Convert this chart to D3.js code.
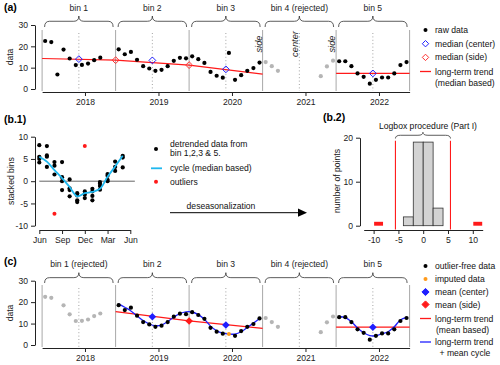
<!DOCTYPE html>
<html>
<head>
<meta charset="utf-8">
<script src="https://cdn.jsdelivr.net/npm/d3@7"></script>
<style>
  body { margin: 0; background: #fff; }
  svg { display: block; }
</style>
</head>
<body>
<div id="chart"></div>
<script>
// ---- data ----
// bins run June -> May, named by the year they start in
const binYears = [2017, 2018, 2019, 2020, 2021];
const binLabelsA = ["bin 1", "bin 2", "bin 3", "bin 4 (rejected)", "bin 5"];
const binLabelsC = ["bin 1 (rejected)", "bin 2", "bin 3", "bin 4 (rejected)", "bin 5"];
const yearTicks = [2018, 2019, 2020, 2021, 2022];

// monthly raw values, Jun..May (null = missing)
const rawBin1 = [22.5, 22.0, 6.8, 18.5, 14.3, 11.2, 11.3, 11.9, 13.5, 14.7, null, null];
const rawBin2 = [18.6, 16.3, 17.4, 13.7, 10.7, 9.6, 8.5, 9.0, 10.7, 13.2, 14.6, 14.4];
const rawBin3 = [15.3, 14.0, 12.2, 8.0, 6.2, 5.3, 16.9, 4.3, 6.5, 8.5, 9.8, 12.4];
const rawBin4 = [12.6, 10.7, 8.5, null, null, null, null, null, null, 6.0, 10.6, 13.3];
const rawBin5 = [13.0, 13.0, 10.7, 7.3, 5.7, 2.5, 4.3, 5.4, 5.4, 7.3, 11.2, 12.6];
const rawBins = [rawBin1, rawBin2, rawBin3, rawBin4, rawBin5];
const rejectedA = [3];
const rejectedC = [0, 3];

// outliers found by the logbox step (bin index, month index)
const outlierIdx = [{ bin: 0, i: 2 }, { bin: 2, i: 6 }];
const imputed = [{ bin: 2, i: 6, v: 5.1 }];

// (a) median based trend
const trendA = [{ t: 2017.417, v: 14.3 }, { t: 2018.417, v: 13.5 }, { t: 2019.417, v: 11.2 }, { t: 2020.417, v: 7.0 }];
const trendA5 = [{ t: 2021.417, v: 7.3 }, { t: 2022.417, v: 7.3 }];
const medianCenter = [{ t: 2017.917, v: 14.0 }, { t: 2018.917, v: 13.4 }, { t: 2019.917, v: 9.2 }, { t: 2021.917, v: 7.3 }];
const medianSide = [{ t: 2018.417, v: 13.5 }, { t: 2019.417, v: 11.2 }];

// (c) mean based trend
const trendC = [{ t: 2018.417, v: 15.6 }, { t: 2019.417, v: 11.3 }, { t: 2020.417, v: 7.8 }];
const trendC5 = [{ t: 2021.417, v: 8.3 }, { t: 2022.417, v: 8.3 }];
const meanCenter = [{ t: 2018.917, v: 13.2 }, { t: 2019.917, v: 9.3 }, { t: 2021.917, v: 8.3 }];
const meanSide = [{ t: 2019.417, v: 11.2 }];
// trend + mean cycle, monthly from Jun 2018 (bins 2-3) and Jun 2021 (bin 5)
const cycleCurve23 = [19.2, 17.6, 15.9, 13.6, 11.4, 9.8, 9.0, 9.3, 10.9, 13.0, 14.7, 15.5,
                      15.4, 14.2, 12.0, 8.8, 6.6, 5.5, 5.1, 5.1, 6.2, 8.2, 10.2, 12.4];
const cycleCurve5 = [13.3, 12.8, 10.9, 7.9, 5.7, 4.4, 4.3, 5.3, 6.2, 8.5, 11.7, 12.9];

// (b.1) detrended data stacked by month (Jun = 0)
const monthTicks = [0, 3, 6, 9, 12];
const monthLabels = ["Jun", "Sep", "Dec", "Mar", "Jun"];
const detrended = [
    [8.1, 5.5, 5.0, 4.2], [7.9, 5.8, 5.5, 3.2], [4.3, 3.5, 1.5], [4.3, 0.9, 0.0, -2.0],
    [0.4, -1.6, -2.0, -3.4], [-2.7, -3.2, -4.3, -4.7], [-2.3, -3.0, -3.8], [-1.7, -2.3, -3.3, -4.3],
    [-0.2, -0.6, -1.1, -1.9], [1.6, 1.2, 0.3, 0.0], [4.4, 3.2, 2.3], [5.7, 5.3, 3.1]
];
const outliersB1 = [{ m: 2, v: -7.3 }, { m: 6, v: 7.9 }];
const cycleMedian = [5.5, 4.4, 2.5, 0.7, -1.3, -3.4, -2.7, -2.4, -1.7, 1.0, 3.3, 5.7];

// (b.2) histogram of deseasonalized data
const histEdges = [-4, -2, 0, 2, 4];
const histCounts = [2, 19, 19, 4];
const histOutliers = [{ x0: -10, x1: -8, n: 1 }, { x0: 10, x1: 12, n: 1 }];
const logboxLimits = [-5.6, 5.5];
const histTicks = [-10, -5, 0, 5, 10];

// ---- setup ----
const FONT = "'Liberation Sans', Arial, Helvetica, sans-serif";
const FS = 8.6;
const GRAYPT = "#b5b5b5";
const svg = d3.select("#chart").append("svg")
    .attr("width", 500)
    .attr("height", 365)
    .attr("font-family", FONT);

const x = d3.scaleLinear().domain([2017 + 5 / 12, 2022 + 5 / 12]).range([42.1, 409.6]);
const yA = d3.scaleLinear().domain([0, 30]).range([89, 25]);
const yC = d3.scaleLinear().domain([0, 30]).range([345, 280.7]);
const monthT = (b, i) => binYears[b] + (5 + i + 0.5) / 12;
const diamond = r => `M0,${-r}L${r},0L0,${r}L${-r},0Z`;

function styleAxis(g) {
    g.attr("font-family", FONT).attr("font-size", FS);
    g.select(".domain").attr("stroke", "#222");
    g.selectAll(".tick line").attr("stroke", "#222");
    g.selectAll(".tick text").attr("fill", "#222");
}

function leftAxis(scale, xPos, ticks) {
    svg.append("g")
        .attr("transform", `translate(${xPos},0)`)
        .call(d3.axisLeft(scale).tickValues(ticks).tickSize(4).tickPadding(3).tickSizeOuter(0).tickFormat(d => String(d)))
        .call(styleAxis);
}

function bottomAxis(scale, yPos, ticks, fmt) {
    svg.append("g")
        .attr("transform", `translate(0,${yPos})`)
        .call(d3.axisBottom(scale).tickValues(ticks).tickSize(4).tickPadding(3).tickSizeOuter(0).tickFormat(fmt))
        .call(styleAxis);
}

function yTitle(label, xPos, yPos) {
    svg.append("text")
        .attr("transform", `translate(${xPos},${yPos}) rotate(-90)`)
        .attr("text-anchor", "middle")
        .attr("font-size", FS)
        .attr("fill", "#222")
        .text(label);
}

function panelLabel(label, xPos, yPos) {
    svg.append("text")
        .attr("x", xPos).attr("y", yPos)
        .attr("font-size", 10.5)
        .attr("font-weight", "bold")
        .text(label);
}

// curly brace opening downwards
function bracePath(x0, x1, yEnd, yTip) {
    const xm = (x0 + x1) / 2, ym = yTip + (yEnd - yTip) * 0.48, r = 5;
    return `M${x0},${yEnd} Q${x0},${ym} ${x0 + r},${ym} L${xm - r},${ym} Q${xm},${ym} ${xm},${yTip}` +
        ` Q${xm},${ym} ${xm + r},${ym} L${x1 - r},${ym} Q${x1},${ym} ${x1},${yEnd}`;
}

function binFrame(yScale, top, bottom, labels, braceY) {
    const edges = binYears.map(b => b + 5 / 12).concat([binYears[4] + 1 + 5 / 12]);
    svg.append("g").selectAll("line")
        .data(edges)
        .join("line")
        .attr("x1", d => x(d)).attr("x2", d => x(d))
        .attr("y1", top).attr("y2", bottom)
        .attr("stroke", "#a8a8a8").attr("stroke-width", 1);
    svg.append("g").selectAll("line")
        .data(binYears.map(b => b + 11 / 12))
        .join("line")
        .attr("x1", d => x(d)).attr("x2", d => x(d))
        .attr("y1", top + 3).attr("y2", bottom)
        .attr("stroke", "#9a9a9a").attr("stroke-width", 0.9)
        .attr("stroke-dasharray", "1,2.4");
    svg.append("g").selectAll("path")
        .data(binYears)
        .join("path")
        .attr("d", b => bracePath(x(b + 5 / 12) + 2.5, x(b + 17 / 12) - 2.5, braceY[1], braceY[0]))
        .attr("fill", "none").attr("stroke", "#333").attr("stroke-width", 0.8);
    svg.append("g").selectAll("text")
        .data(binYears)
        .join("text")
        .attr("x", b => x(b + 11 / 12))
        .attr("y", braceY[0] - 5.5)
        .attr("text-anchor", "middle")
        .attr("font-size", FS)
        .attr("fill", "#222")
        .text((b, i) => labels[i]);
}

function legendRow(xSym, y, sym, lines) {
    const g = svg.append("g");
    if (sym.type === "dot") {
        g.append("circle").attr("cx", xSym).attr("cy", y).attr("r", 2).attr("fill", sym.color);
    } else if (sym.type === "diamond") {
        g.append("path").attr("d", diamond(sym.r))
            .attr("transform", `translate(${xSym},${y})`)
            .attr("fill", sym.fill).attr("stroke", sym.stroke).attr("stroke-width", 1);
    } else if (sym.type === "line") {
        g.append("line").attr("x1", xSym - 5.5).attr("x2", xSym + 5.5)
            .attr("y1", y).attr("y2", y)
            .attr("stroke", sym.color).attr("stroke-width", sym.w || 1.3);
    }
    lines.forEach((l, k) => {
        g.append("text")
            .attr("x", xSym + 9.5 + (l.dx || 0))
            .attr("y", y + 3 + k * 11.3)
            .attr("font-size", FS)
            .attr("fill", "#111")
            .text(l.t);
    });
}

const lineT = d3.line().x(d => x(d.t));

// ================= panel (a) =================
panelLabel("(a)", 4, 11);
binFrame(yA, 30, 91, binLabelsA, [16, 27]);

// side / center annotations
[{ t: 2020.417, s: "side", dx: -1 }, { t: 2020.917, s: "center", dx: -1.5 }, { t: 2021.417, s: "side", dx: -1 }]
    .forEach(a => {
        svg.append("text")
            .attr("transform", `translate(${x(a.t) + a.dx},44) rotate(-90)`)
            .attr("text-anchor", "middle")
            .attr("font-size", 9.3)
            .attr("font-style", "italic")
            .attr("fill", "#222")
            .text(a.s);
    });

[trendA, trendA5].forEach(tr => {
    svg.append("path")
        .attr("d", lineT.y(d => yA(d.v))(tr))
        .attr("fill", "none").attr("stroke", "#ff1a1a").attr("stroke-width", 1.2);
});

const ptsA = [];
rawBins.forEach((arr, b) => arr.forEach((v, i) => {
    if (v !== null) ptsA.push({ t: monthT(b, i), v, gray: rejectedA.includes(b) });
}));
svg.append("g").selectAll("circle")
    .data(ptsA)
    .join("circle")
    .attr("cx", d => x(d.t)).attr("cy", d => yA(d.v)).attr("r", 2.1)
    .attr("fill", d => d.gray ? GRAYPT : "#000");

svg.append("g").selectAll("path")
    .data(medianCenter)
    .join("path")
    .attr("d", diamond(3.4))
    .attr("transform", d => `translate(${x(d.t)},${yA(d.v)})`)
    .attr("fill", "none").attr("stroke", "#1f1fff").attr("stroke-width", 1);
svg.append("g").selectAll("path")
    .data(medianSide)
    .join("path")
    .attr("d", diamond(3.4))
    .attr("transform", d => `translate(${x(d.t)},${yA(d.v)})`)
    .attr("fill", "none").attr("stroke", "#ff3030").attr("stroke-width", 1);

leftAxis(yA, 35, [0, 10, 20, 30]);
bottomAxis(x, 92, yearTicks, d => String(d));
yTitle("data", 13, 57);

legendRow(425.5, 30, { type: "dot", color: "#000" }, [{ t: "raw data" }]);
legendRow(425.5, 43.7, { type: "diamond", r: 3.2, fill: "none", stroke: "#1f1fff" }, [{ t: "median (center)" }]);
legendRow(425.5, 57.4, { type: "diamond", r: 3.2, fill: "none", stroke: "#ff3030" }, [{ t: "median (side)" }]);
legendRow(425.5, 71.5, { type: "line", color: "#ff1a1a" }, [{ t: "long-term trend" }, { t: "(median based)" }]);

// ================= panel (b.1) =================
panelLabel("(b.1)", 4, 123);
const xB = d3.scaleLinear().domain([0, 12]).range([39.3, 130.3]);
const yB = d3.scaleLinear().domain([-10, 10]).range([225.7, 136.7]);

svg.append("line")
    .attr("x1", xB(0)).attr("x2", xB(12.6))
    .attr("y1", yB(0)).attr("y2", yB(0))
    .attr("stroke", "#555").attr("stroke-width", 0.9);

const ptsB = [];
detrended.forEach((arr, m) => arr.forEach(v => ptsB.push({ m, v })));
svg.append("g").selectAll("circle")
    .data(ptsB)
    .join("circle")
    .attr("cx", d => xB(d.m)).attr("cy", d => yB(d.v)).attr("r", 2.1)
    .attr("fill", "#000");
svg.append("g").selectAll("circle")
    .data(outliersB1)
    .join("circle")
    .attr("cx", d => xB(d.m)).attr("cy", d => yB(d.v)).attr("r", 2)
    .attr("fill", "#ff1a1a");

svg.append("path")
    .attr("d", d3.line().x((d, i) => xB(i)).y(d => yB(d)).curve(d3.curveCatmullRom)(cycleMedian))
    .attr("fill", "none").attr("stroke", "#1fb8ef").attr("stroke-width", 1.8);

leftAxis(yB, 35, [-10, -5, 0, 5, 10]);
bottomAxis(xB, 230, monthTicks, (d, i) => monthLabels[i]);
yTitle("stacked bins", 14, 181);

legendRow(156, 149, { type: "dot", color: "#000" }, []);
svg.append("text").attr("x", 170).attr("y", 147).attr("font-size", FS).attr("fill", "#111").text("detrended data from");
svg.append("text").attr("x", 170).attr("y", 155.5).attr("font-size", FS).attr("fill", "#111").text("bin 1,2,3 & 5.");
legendRow(156.5, 168.3, { type: "line", color: "#1fb8ef", w: 1.8 }, [{ t: "cycle (median based)", dx: 4 }]);
legendRow(156, 181.7, { type: "dot", color: "#ff1a1a" }, [{ t: "outliers", dx: 4.5 }]);

// arrow
svg.append("line")
    .attr("x1", 170).attr("x2", 300)
    .attr("y1", 212.7).attr("y2", 212.7)
    .attr("stroke", "#000").attr("stroke-width", 1);
svg.append("path")
    .attr("d", "M307,212.7 L298,208.6 L298,216.8 Z")
    .attr("fill", "#000");
svg.append("text")
    .attr("x", 221).attr("y", 209)
    .attr("text-anchor", "middle")
    .attr("font-size", FS).attr("fill", "#111")
    .text("deseasonalization");

// ================= panel (b.2) =================
panelLabel("(b.2)", 323, 121);
const xH = d3.scaleLinear().domain([-12, 12]).range([363.7, 482.7]);
const yH = d3.scaleLinear().domain([0, 20]).range([225.7, 137.7]);

svg.append("g").selectAll("rect")
    .data(histCounts)
    .join("rect")
    .attr("x", (d, i) => xH(histEdges[i]))
    .attr("width", (d, i) => xH(histEdges[i + 1]) - xH(histEdges[i]))
    .attr("y", d => yH(d))
    .attr("height", d => yH(0) - yH(d))
    .attr("fill", "#d3d3d3").attr("stroke", "#333").attr("stroke-width", 0.8);
svg.append("g").selectAll("rect")
    .data(histOutliers)
    .join("rect")
    .attr("x", d => xH(d.x0) + 0.5)
    .attr("width", d => xH(d.x1) - xH(d.x0) - 1)
    .attr("y", d => yH(d.n) + 0.5)
    .attr("height", d => yH(0) - yH(d.n) - 0.5)
    .attr("fill", "#ff1a1a");
svg.append("g").selectAll("line")
    .data(logboxLimits)
    .join("line")
    .attr("x1", d => xH(d)).attr("x2", d => xH(d))
    .attr("y1", yH(19.3)).attr("y2", 229.5)
    .attr("stroke", "#ff1a1a").attr("stroke-width", 1.1);

svg.append("path")
    .attr("d", bracePath(xH(logboxLimits[0]), xH(logboxLimits[1]), 138.5, 132.3))
    .attr("fill", "none").attr("stroke", "#333").attr("stroke-width", 0.8);
svg.append("text")
    .attr("x", 428).attr("y", 128.8)
    .attr("text-anchor", "middle")
    .attr("font-size", FS).attr("fill", "#111")
    .text("Logbox procedure (Part I)");

leftAxis(yH, 360, [0, 10, 20]);
bottomAxis(xH, 230, histTicks, d => String(d));
yTitle("number of points", 339.5, 181);

// ================= panel (c) =================
panelLabel("(c)", 4, 265);
binFrame(yC, 285, 347, binLabelsC, [272.7, 283]);

[trendC, trendC5].forEach(tr => {
    svg.append("path")
        .attr("d", lineT.y(d => yC(d.v))(tr))
        .attr("fill", "none").attr("stroke", "#ff1a1a").attr("stroke-width", 1.2);
});

// long-term trend + mean cycle
const curveLine = d3.line().x(d => x(d.t)).y(d => yC(d.v)).curve(d3.curveCatmullRom);
svg.append("path")
    .attr("d", curveLine(cycleCurve23.map((v, i) => ({ t: monthT(1, i), v }))))
    .attr("fill", "none").attr("stroke", "#1f1fff").attr("stroke-width", 1.3);
svg.append("path")
    .attr("d", curveLine(cycleCurve5.map((v, i) => ({ t: monthT(4, i), v }))))
    .attr("fill", "none").attr("stroke", "#1f1fff").attr("stroke-width", 1.3);

const ptsC = [];
rawBins.forEach((arr, b) => arr.forEach((v, i) => {
    if (v === null) return;
    if (outlierIdx.some(o => o.bin === b && o.i === i)) return;
    ptsC.push({ t: monthT(b, i), v, gray: rejectedC.includes(b) });
}));
svg.append("g").selectAll("circle")
    .data(ptsC)
    .join("circle")
    .attr("cx", d => x(d.t)).attr("cy", d => yC(d.v)).attr("r", 2.1)
    .attr("fill", d => d.gray ? GRAYPT : "#000");
svg.append("g").selectAll("circle")
    .data(imputed)
    .join("circle")
    .attr("cx", d => x(monthT(d.bin, d.i))).attr("cy", d => yC(d.v)).attr("r", 2)
    .attr("fill", "#ff9a1a");

svg.append("g").selectAll("path")
    .data(meanCenter)
    .join("path")
    .attr("d", diamond(3.8))
    .attr("transform", d => `translate(${x(d.t)},${yC(d.v)})`)
    .attr("fill", "#1f1fff");
svg.append("g").selectAll("path")
    .data(meanSide)
    .join("path")
    .attr("d", diamond(3.8))
    .attr("transform", d => `translate(${x(d.t)},${yC(d.v)})`)
    .attr("fill", "#ff1a1a");

leftAxis(yC, 35, [0, 10, 20, 30]);
bottomAxis(x, 348, yearTicks, d => String(d));
yTitle("data", 13, 313);

legendRow(425.5, 266, { type: "dot", color: "#000" }, [{ t: "outlier-free data" }]);
legendRow(425.5, 279, { type: "dot", color: "#ff9a1a" }, [{ t: "imputed data" }]);
legendRow(425.5, 292, { type: "diamond", r: 3.6, fill: "#1f1fff", stroke: "#1f1fff" }, [{ t: "mean (center)" }]);
legendRow(425.5, 304.5, { type: "diamond", r: 3.6, fill: "#ff1a1a", stroke: "#ff1a1a" }, [{ t: "mean (side)" }]);
legendRow(425.5, 318.5, { type: "line", color: "#ff1a1a" }, [{ t: "long-term trend" }, { t: "(mean based)", dx: 1 }]);
legendRow(425.5, 342, { type: "line", color: "#1f1fff" }, [{ t: "long-term trend" }, { t: "+ mean cycle", dx: 4.5 }]);
</script>
</body>
</html>
